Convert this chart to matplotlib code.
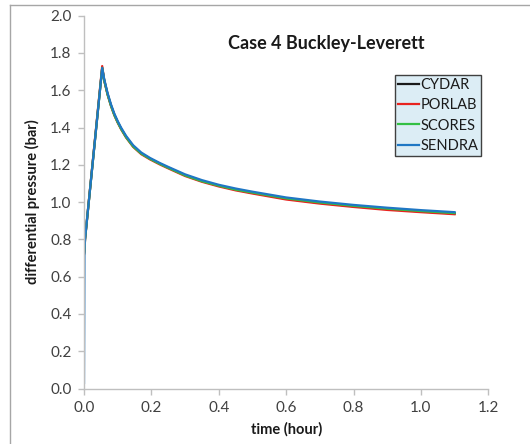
import matplotlib
matplotlib.use("Agg")
import matplotlib.pyplot as plt
from matplotlib.lines import Line2D

plt.rcParams['font.family'] = ['Lato', 'DejaVu Sans']

# time (hour)
t_sendra = [0.0, 0.0015, 0.003, 0.054, 0.06, 0.07, 0.08, 0.09, 0.10, 0.11, 0.125, 0.146, 0.17,
            0.196, 0.225, 0.25, 0.3, 0.35, 0.4, 0.45, 0.5, 0.6, 0.7, 0.8, 0.9, 1.0, 1.1]
p_sendra = [0.03, 0.74, 0.80, 1.72, 1.66, 1.585, 1.525, 1.475, 1.435, 1.40, 1.355, 1.305, 1.266,
            1.237, 1.210, 1.189, 1.149, 1.118, 1.093, 1.073, 1.056, 1.025, 1.003, 0.985, 0.970, 0.957, 0.946]

t_other = [0.0, 0.0015, 0.003, 0.054, 0.06, 0.07, 0.08, 0.09, 0.10, 0.11, 0.125, 0.146, 0.17,
           0.196, 0.225, 0.25, 0.3, 0.35, 0.4, 0.45, 0.5, 0.6, 0.7, 0.8, 0.9, 1.0, 1.1]
p_cydar = [0.72, 0.74, 0.80, 1.72, 1.655, 1.58, 1.52, 1.47, 1.43, 1.395, 1.350, 1.300, 1.261,
           1.233, 1.206, 1.185, 1.144, 1.113, 1.088, 1.067, 1.050, 1.018, 0.996, 0.978, 0.963, 0.950, 0.939]
p_porlab = [0.72, 0.74, 0.80, 1.73, 1.652, 1.576, 1.516, 1.466, 1.426, 1.391, 1.346, 1.296, 1.257,
            1.229, 1.202, 1.181, 1.140, 1.109, 1.084, 1.063, 1.046, 1.014, 0.992, 0.974, 0.958, 0.946, 0.935]
p_scores = [0.72, 0.74, 0.80, 1.72, 1.652, 1.577, 1.517, 1.467, 1.428, 1.393, 1.348, 1.298, 1.260,
            1.232, 1.205, 1.184, 1.143, 1.112, 1.088, 1.067, 1.051, 1.020, 0.998, 0.980, 0.965, 0.952, 0.941]

series_names = ['CYDAR', 'PORLAB', 'SCORES', 'SENDRA']
series_colors = ['#1a1a1a', '#e8231f', '#33c043', '#1f77c4']

x_ticks = [0.0, 0.2, 0.4, 0.6, 0.8, 1.0, 1.2]
y_ticks = [0.0, 0.2, 0.4, 0.6, 0.8, 1.0, 1.2, 1.4, 1.6, 1.8, 2.0]

fig = plt.figure(figsize=(5.3, 4.44), dpi=100)
ax = fig.add_axes([0.1585, 0.125, 0.7628, 0.8396])

data = [(t_other, p_cydar), (t_other, p_porlab), (t_other, p_scores), (t_sendra, p_sendra)]
for (tt, pp), name, col in zip(data, series_names, series_colors):
    ax.plot(tt, pp, color=col, lw=1.6, label=name, solid_joinstyle='round')

ax.set_xlim(0, 1.2)
ax.set_ylim(0, 2.0)
ax.set_xticks(x_ticks)
ax.set_yticks(y_ticks)
ax.set_xticklabels([f"{v:.1f}" for v in x_ticks])
ax.set_yticklabels([f"{v:.1f}" for v in y_ticks])

for s in ['top', 'right']:
    ax.spines[s].set_visible(False)
for s in ['left', 'bottom']:
    ax.spines[s].set_color('#bfbfbf')
    ax.spines[s].set_linewidth(1.0)
ax.tick_params(axis='both', direction='out', length=4, width=1, color='#bfbfbf',
               labelsize=11, labelcolor='#404040', pad=5)

ax.set_xlabel('time (hour)', fontsize=10.5, fontweight='bold', color='#1a1a1a', labelpad=5)
ax.set_ylabel('differential pressure (bar)', fontsize=10.5, fontweight='bold', color='#1a1a1a', labelpad=7)

ax.text(0.60, 0.925, 'Case 4 Buckley-Leverett', transform=ax.transAxes,
        ha='center', va='center', fontsize=13, fontweight='bold', color='#1a1a1a')

leg = ax.legend(loc='upper left', bbox_to_anchor=(0.769, 0.84), fontsize=10.5,
                frameon=True, fancybox=False, borderpad=0.2, handlelength=1.45,
                handletextpad=0.1, labelspacing=0.42, borderaxespad=0)
leg.get_frame().set_facecolor('#dcedf5')
leg.get_frame().set_edgecolor('#404040')
leg.get_frame().set_linewidth(1.0)
leg.get_frame().set_alpha(1.0)
for txt in leg.get_texts():
    txt.set_color('#1a1a1a')

# outer chart frame
fig.add_artist(Line2D([10 / 530, 10 / 530], [0, 1 - 5 / 444], color='#a6a6a6', lw=1.0,
                      transform=fig.transFigure))
fig.add_artist(Line2D([10 / 530, 1], [1 - 5 / 444, 1 - 5 / 444], color='#a6a6a6', lw=1.0,
                      transform=fig.transFigure))

fig.savefig('out.png', dpi=100)
